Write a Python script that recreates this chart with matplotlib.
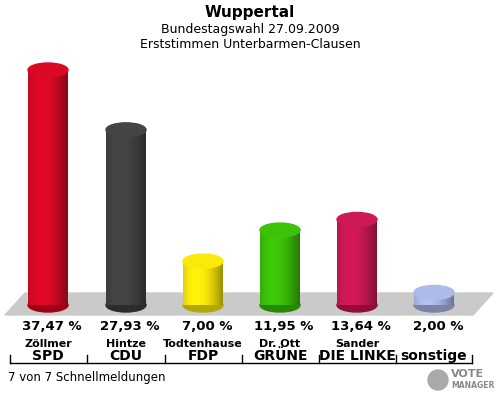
import matplotlib
matplotlib.use("Agg")
import matplotlib.pyplot as plt
from matplotlib.patches import Rectangle, Ellipse, Polygon
import matplotlib.colors as mc
import numpy as np

names = ["Zöllmer", "Hintze", "Todtenhause", "Dr. Ott", "Sander", ""]
parties = ["SPD", "CDU", "FDP", "GRÜNE", "DIE LINKE", "sonstige"]
values = [37.47, 27.93, 7.00, 11.95, 13.64, 2.00]
labels = ["37,47 %", "27,93 %", "7,00 %", "11,95 %", "13,64 %", "2,00 %"]
colors = ["#d0001c", "#3a3a3a", "#f0e000", "#33b800", "#c4104a", "#a4b0e0"]

fig = plt.figure(figsize=(5, 4), dpi=100)
ax = fig.add_axes([0, 0, 1, 1])
ax.set_xlim(0, 500); ax.set_ylim(400, 0); ax.axis("off")

ax.add_patch(Polygon([(5, 315), (25, 293), (493, 293), (473, 315)], closed=True, color="#cacaca", zorder=1))

base = 305
scale = 235 / 37.47
w = 40
centers = [48, 126, 203, 280, 357, 434]
for cx, v, c in zip(centers, values, colors):
    h = v * scale
    rgb = np.array(mc.to_rgb(c))
    n = 40
    xs = np.linspace(-1, 1, n + 1)
    for i in range(n):
        t = (xs[i] + xs[i + 1]) / 2
        f = 0.6 + 0.45 * np.cos((t + 0.3) * np.pi / 2.6)
        col = np.clip(rgb * f + 0.03, 0, 1)
        x0 = cx + xs[i] * w / 2
        ax.add_patch(Rectangle((x0, base - h), w / n + 0.3, h, color=col, lw=0, zorder=2))
    ax.add_patch(Ellipse((cx, base), w, 14, color=np.clip(rgb * 0.75, 0, 1), zorder=1.9))
    ax.add_patch(Ellipse((cx, base - h), w, 14, color=np.clip(rgb * 1.0 + 0.04, 0, 1), zorder=3))

for cx, lab, nm, p in zip(centers, labels, names, parties):
    ax.text(cx + 4, 327, lab, ha="center", va="center", fontsize=9.5, fontweight="bold")
    ax.text(cx, 344, nm, ha="center", va="center", fontsize=8, fontweight="bold")
    ax.text(cx, 356, p, ha="center", va="center", fontsize=10, fontweight="bold")

ax.plot([10, 472], [363, 363], color="black", lw=1)
for x in [10, 87, 165, 242, 319, 396, 472]:
    ax.plot([x, x], [355, 363], color="black", lw=1)

ax.text(250, 12, "Wuppertal", ha="center", va="center", fontsize=11, fontweight="bold")
ax.text(250, 29, "Bundestagswahl 27.09.2009", ha="center", va="center", fontsize=9)
ax.text(250, 44, "Erststimmen Unterbarmen-Clausen", ha="center", va="center", fontsize=9)
ax.text(8, 378, "7 von 7 Schnellmeldungen", ha="left", va="center", fontsize=8.5)
ax.add_patch(Ellipse((438, 380), 20, 20, color="#aaaaaa"))
ax.text(451, 374, "VOTE", ha="left", va="center", fontsize=8, fontweight="bold", color="#888888")
ax.text(451, 386, "MANAGER", ha="left", va="center", fontsize=5.5, fontweight="bold", color="#888888")

fig.savefig("out.png", dpi=100)
